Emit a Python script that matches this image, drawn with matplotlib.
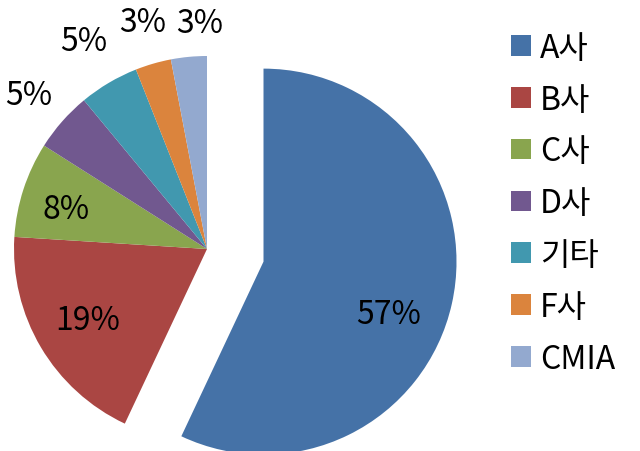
import numpy as np
import matplotlib.pyplot as plt

plt.rcParams['font.family'] = ['Noto Sans CJK KR', 'DejaVu Sans']

# 데이터
labels = ["A사", "B사", "C사", "D사", "기타", "F사", "CMIA"]
shares = [57, 19, 8, 5, 5, 3, 3]
colors = ["#4572A7", "#AA4643", "#89A54E", "#71588F", "#4198AF", "#DB843D", "#93A9CF"]
explode = [0.3, 0, 0, 0, 0, 0, 0]

# 라벨 위치 (반지름 비율, 각도 보정)
label_dist = [0.70, 0.72, 0.76, 1.22, 1.25, 1.22, 1.17]
label_shift = [-10, 0, 2, 0.5, 0, -0.4, -3.6]

fig = plt.figure(figsize=(6.4, 4.52), dpi=100)
ax = fig.add_axes([0, 0, 1, 1])

wedges, texts, autotexts = ax.pie(
    shares,
    colors=colors,
    explode=explode,
    startangle=90,
    counterclock=False,
    autopct="%d%%",
    textprops=dict(fontsize=23, color="black"),
    wedgeprops=dict(linewidth=0),
)

# 퍼센트 라벨을 조각별로 배치
for w, t, d, s in zip(wedges, autotexts, label_dist, label_shift):
    ang = np.deg2rad((w.theta1 + w.theta2) / 2 + s)
    cx, cy = w.center
    t.set_position((cx + d * np.cos(ang), cy + d * np.sin(ang)))
    t.set_ha("center")
    t.set_va("center")

# 픽셀 기준 배치: 중심 (207, 250), 반지름 193px
scale = 193
ax.set_xlim(-207 / scale, (640 - 207) / scale)
ax.set_ylim(-(452 - 250) / scale, 250 / scale)
ax.set_aspect("auto")
ax.axis("off")

fig.legend(
    wedges, labels,
    loc="upper left",
    bbox_to_anchor=(482 / 640, 1 - 4 / 452),
    frameon=False,
    fontsize=23,
    handlelength=0.62,
    handleheight=0.62,
    handletextpad=0.3,
    labelspacing=0.62,
)

plt.savefig("out.png", dpi=100)
plt.close()
